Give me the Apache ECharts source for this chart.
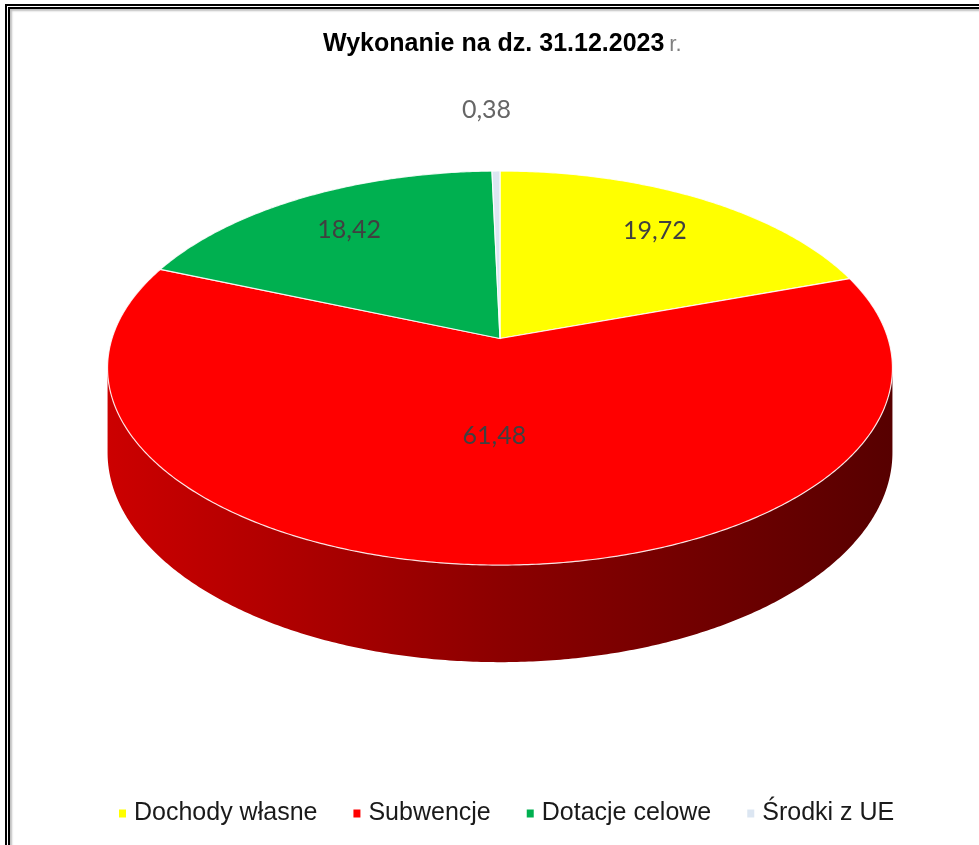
<!DOCTYPE html>
<html>
<head>
<meta charset="utf-8">
<script src="https://cdn.jsdelivr.net/npm/echarts@6/dist/echarts.min.js"></script>
<style>
html,body{margin:0;padding:0;background:#fff;}
#chart{position:absolute;left:0;top:0;width:979px;height:845px;}
#frame{position:absolute;left:5px;top:4px;width:990px;height:838px;border-left:5px double #000;border-top:5px double #000;border-bottom:1px solid #ddd;pointer-events:none;box-shadow:inset 2px 2px 2px rgba(0,0,0,0.25);}
</style>
</head>
<body>
<div id="chart"></div>
<div id="frame"></div>
<script>
// ---- data ----
const categories = ['Dochody własne', 'Subwencje', 'Dotacje celowe', 'Środki z UE'];
const values = [19.72, 61.48, 18.42, 0.38];
const titleMain = 'Wykonanie na dz. 31.12.2023';
const titleSuffix = 'r.';

// ---- styles ----
const colors = ['#FFFF00', '#FF0000', '#00B050', '#DCE6F2'];
const labelRadius = [0.75, 0.47, 0.75, 1.44];
const labelColors = ['#404040', '#404040', '#404040', '#666666'];

// ---- 3D pie geometry ----
const CX = 500, CY = 338.5, RX = 388, RY = 192.6, P = 0.15, DEPTH = 82.5;
const total = values.reduce((a, b) => a + b, 0);
const starts = [];
{ let acc = 0; values.forEach(v => { starts.push(acc); acc += v; }); }

function pt(deg, r, down) {
  const t = deg * Math.PI / 180;
  const u = r * Math.sin(t), v = r * Math.cos(t);
  const w = 1 + P * v;
  return [CX + RX * u / w, CY - RY * v / w + (down || 0) / w];
}
function fmt(v) { return v.toFixed(2).replace('.', ','); }
function shade(hex, f) {
  const n = parseInt(hex.slice(1), 16);
  const r = Math.round(((n >> 16) & 255) * f), g = Math.round(((n >> 8) & 255) * f), b = Math.round((n & 255) * f);
  return 'rgb(' + r + ',' + g + ',' + b + ')';
}
const thetaR = Math.acos(-P) * 180 / Math.PI; // ~98.6
const frontLo = thetaR, frontHi = 360 - thetaR;

function wallRender(i) {
  return function (params, api) {
    const val = api.value(0);
    const a0 = starts[i] / total * 360, a1 = (starts[i] + val) / total * 360;
    const lo = Math.max(a0, frontLo), hi = Math.min(a1, frontHi);
    if (lo >= hi) return { type: 'group', children: [] };
    const pts = [];
    for (let a = lo; a < hi; a += 0.5) pts.push(pt(a, 1, 0));
    pts.push(pt(hi, 1, 0));
    for (let a = hi; a > lo; a -= 0.5) pts.push(pt(a, 1, DEPTH));
    pts.push(pt(lo, 1, DEPTH));
    const xl = pt(frontLo + 0.01, 1)[0], xr = pt(frontHi, 1)[0];
    return {
      type: 'polygon',
      shape: { points: pts },
      style: {
        fill: {
          type: 'linear', global: true, x: Math.min(xl, xr), y: 0, x2: Math.max(xl, xr), y2: 0,
          colorStops: [
            { offset: 0, color: shade(colors[i], 0.80) },
            { offset: 0.5, color: shade(colors[i], 0.55) },
            { offset: 1, color: shade(colors[i], 0.34) }
          ]
        },
        stroke: null
      }
    };
  };
}

function topRender(i) {
  return function (params, api) {
    const val = api.value(0);
    const a0 = starts[i] / total * 360, a1 = (starts[i] + val) / total * 360;
    const pts = [pt(0, 0)];
    for (let a = a0; a < a1; a += 0.5) pts.push(pt(a, 1));
    pts.push(pt(a1, 1));
    const mid = (a0 + a1) / 2;
    const lp = pt(mid, labelRadius[i]);
    return {
      type: 'group',
      children: [
        { type: 'polygon', shape: { points: pts },
          style: { fill: colors[i], stroke: 'rgba(255,255,255,0.85)', lineWidth: 1.2 } },
        { type: 'text', z2: 10,
          style: { text: fmt(val), x: lp[0] - (i === 3 ? 8 : 0), y: lp[1], align: 'center', verticalAlign: 'middle',
                   font: '25px Lato, "Open Sans", sans-serif', fill: labelColors[i] } }
      ]
    };
  };
}

const series = [];
categories.forEach((c, i) => {
  series.push({ type: 'custom', name: '_wall' + i, coordinateSystem: 'none', z: 1, silent: true,
    data: [[values[i]]], renderItem: wallRender(i) });
});
categories.forEach((c, i) => {
  series.push({ type: 'custom', name: c, coordinateSystem: 'none', z: 2, silent: true,
    itemStyle: { color: colors[i] },
    data: [[values[i]]], renderItem: topRender(i) });
});

const chart = echarts.init(document.getElementById('chart'), null, { renderer: 'canvas' });
chart.setOption({
  animation: false,
  backgroundColor: '#fff',
  title: {
    left: 318, top: 27,
    text: '{b|' + titleMain + '} {r|' + titleSuffix + '}',
    textStyle: {
      rich: {
        b: { fontFamily: '"Liberation Sans", Arial, sans-serif', fontWeight: 'bold', fontSize: 25, color: '#000' },
        r: { fontFamily: '"Liberation Sans", Arial, sans-serif', fontWeight: 'normal', fontSize: 22, color: '#808080' }
      }
    }
  },
  legend: {
    data: categories.map((c, i) => ({ name: c, icon: 'rect', itemStyle: { color: colors[i] } })),
    left: 114, top: 796,
    itemWidth: 7, itemHeight: 8, itemGap: 36,
    textStyle: { fontFamily: '"Liberation Sans", Arial, sans-serif', fontSize: 25, color: '#1a1a1a', padding: [0, 0, 0, 3] },
    selectedMode: false
  },
  series: series
});
</script>
</body>
</html>
